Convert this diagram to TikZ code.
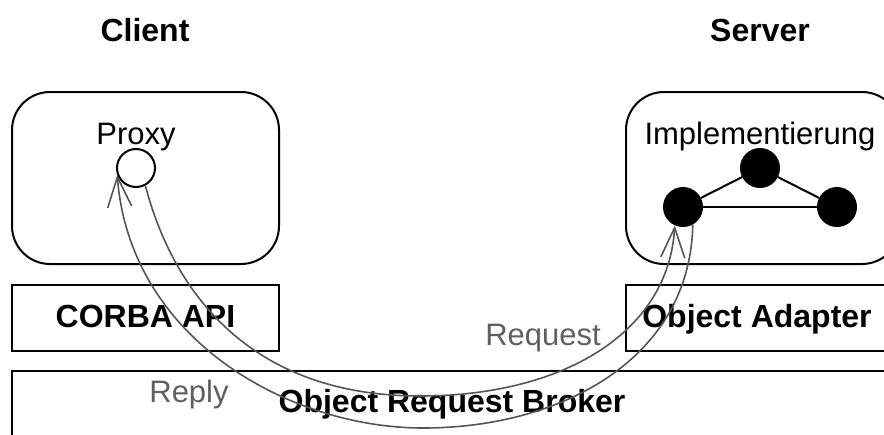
\documentclass[tikz,border=0pt]{standalone}
\usepackage{fontspec}
\setmainfont{Liberation Sans}
\usetikzlibrary{arrows.meta}
\definecolor{arrgray}{RGB}{85,85,85}
\definecolor{txtgray}{RGB}{95,95,95}
\begin{document}
\begin{tikzpicture}[x=1pt,y=-1pt,
 boxline/.style={draw=black,line width=2pt,inner sep=0pt},
 rbox/.style={boxline,rounded corners=38pt},
 lbl/.style={anchor=base,inner sep=0pt,font=\fontsize{31}{37}\selectfont},
 blbl/.style={anchor=base,inner sep=0pt,font=\fontsize{32}{38}\selectfont\bfseries},
 glbl/.style={lbl,text=txtgray},
 hollowdot/.style={circle,draw=black,line width=2pt,fill=white,minimum size=38pt,inner sep=0pt},
 blackdot/.style={circle,fill=black,minimum size=40pt,inner sep=0pt},
 edge/.style={draw=black,line width=2pt},
 flow/.style={draw=arrgray,line width=1.6pt,-{Straight Barb[length=30pt,width=24pt]}}
]
\useasboundingbox (0,0) rectangle (884,434);
\clip (0,0) rectangle (884,434);
% titles
\node[blbl] (client) at (145,41) {Client};
\node[blbl] (server) at (760,41) {Server};
% upper rounded boxes
\node[rbox,minimum width=267pt,minimum height=172pt] (clientbox) at (145.5,178) {};
\node[rbox,minimum width=274pt,minimum height=172pt] (serverbox) at (763,178) {};
% layer boxes
\node[boxline,minimum width=267pt,minimum height=66pt] (apibox) at (145.5,318) {};
\node[boxline,minimum width=274pt,minimum height=66pt] (oabox) at (763,318) {};
\node[boxline,minimum width=888pt,minimum height=74pt] (orbbox) at (456,408) {};
% texts
\node[lbl] (proxytext) at (136,144) {Proxy};
\node[lbl] (impltext) at (760,144) {Implementierung};
\node[blbl] (apitext) at (145.5,327) {CORBA API};
\node[blbl] (oatext) at (757,327) {Object Adapter};
\node[blbl] (orbtext) at (452,412) {Object Request Broker};
\node[glbl] (reqtext) at (543,345) {Request};
\node[glbl] (reptext) at (189,402) {Reply};
% proxy
\node[hollowdot] (proxy) at (136,168) {};
% implementation graph
\node[blackdot] (b1) at (683,207) {};
\node[blackdot] (b2) at (760,168) {};
\node[blackdot] (b3) at (837,207) {};
\draw[edge] (b1) -- (b2);
\draw[edge] (b2) -- (b3);
\draw[edge] (b1) -- (b3);
% request / reply
\coordinate (reqlow) at (420,396);
\coordinate (replow) at (423,428);
\draw[flow] (proxy.298) .. controls (170,280) and (240,396) .. (reqlow) .. controls (560,396) and (668,335) .. (b1.246);
\draw[flow] (b1.299) .. controls (690,360) and (560,428) .. (replow) .. controls (290,428) and (130,340) .. (proxy.200);
\end{tikzpicture}
\end{document}
